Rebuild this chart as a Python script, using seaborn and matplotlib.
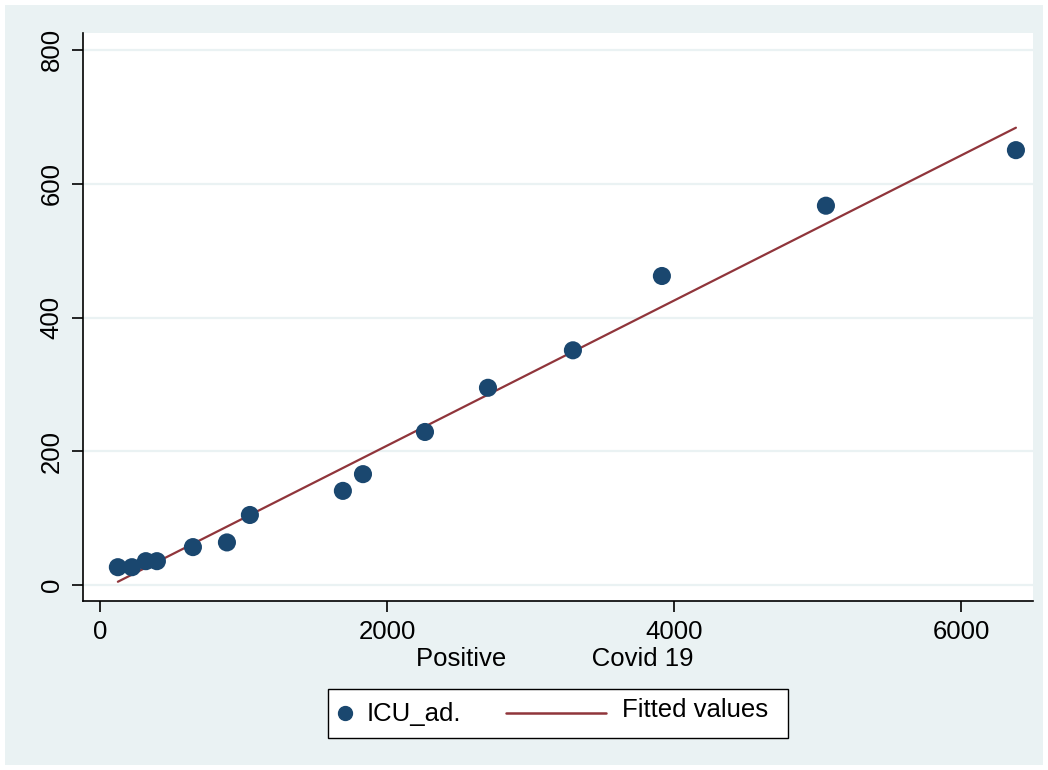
import numpy as np
import pandas as pd
import matplotlib
matplotlib.use("Agg")
import matplotlib.pyplot as plt
import seaborn as sns
from matplotlib.patches import Rectangle
from matplotlib.lines import Line2D

positive = [125, 223, 320, 397, 648, 885, 1045, 1693, 1833, 2265, 2704, 3296, 3916, 5059, 6383]
icu_ad = [27, 27, 36, 36, 57, 64, 105, 141, 166, 229, 295, 351, 462, 567, 650]
x_ticks = [0, 2000, 4000, 6000]
y_ticks = [0, 200, 400, 600, 800]
legend_labels = ["ICU_ad.", "Fitted values"]

df = pd.DataFrame({"Positive": positive, "ICU_ad": icu_ad})

sns.set_style("white")
plt.rcParams['font.family'] = ['Liberation Sans', 'DejaVu Sans']
plt.rcParams['text.color'] = 'black'
plt.rcParams['axes.labelcolor'] = 'black'
plt.rcParams['xtick.color'] = 'black'
plt.rcParams['ytick.color'] = 'black'

BG = "#EAF2F3"
NAVY = "#1a476f"
MAROON = "#90353b"
FS = 18.5
W, H = 1048, 770

fig = plt.figure(figsize=(W / 100, H / 100), dpi=100)
fig.patch.set_facecolor("white")
fig.patches.append(Rectangle((5 / W, 5 / H), 1038 / W, 760 / H, transform=fig.transFigure,
                             facecolor=BG, edgecolor="none", zorder=-10))

ax = fig.add_axes([83 / W, 1 - 601 / H, 950 / W, 568 / H])
ax.set_facecolor("white")

for y in y_ticks:
    ax.axhline(y, color=BG, lw=1.6, zorder=0)

coef = np.polyfit(df["Positive"], df["ICU_ad"], 1)
xs = np.array([df["Positive"].min(), df["Positive"].max()])
sns.lineplot(x=xs, y=np.polyval(coef, xs), ax=ax, color=MAROON, lw=1.6, zorder=2)
sns.scatterplot(data=df, x="Positive", y="ICU_ad", ax=ax, color=NAVY, s=170,
                edgecolor="none", zorder=3)

ax.set_xlim(-118, 6502)
ax.set_ylim(-23.5, 825)
ax.set_xticks(x_ticks)
ax.set_yticks(y_ticks)
ax.set_xticklabels([str(v) for v in x_ticks], fontsize=FS)
ax.set_yticklabels([str(v) for v in y_ticks], fontsize=FS, rotation=90, va="center")
ax.tick_params(axis="both", direction="out", length=8, width=1.2, colors="black",
               bottom=True, left=True, pad=6)
ax.set_xlabel("Positive            Covid 19", fontsize=FS, labelpad=2, color="black")
ax.set_ylabel("")

for s in ["top", "right"]:
    ax.spines[s].set_visible(False)
for s in ["left", "bottom"]:
    ax.spines[s].set_color("black")
    ax.spines[s].set_linewidth(1.2)

# nudge x-label 3px left
fig.canvas.draw()
lab = ax.xaxis.label
bb = lab.get_window_extent()
cx = (bb.x0 + bb.x1) / 2 - 3
top = bb.y1
inv = ax.transAxes.inverted()
ax_x, ax_y = inv.transform((cx, top))
ax.xaxis.set_label_coords(ax_x, ax_y)
lab.set_va("top")

# Legend drawn in figure pixel coordinates (Stata-style layout)
def fx(px):
    return px / W

def fy(py):
    return 1 - py / H

fig.patches.append(Rectangle((fx(328), fy(738)), (788 - 328) / W, (738 - 689) / H,
                             transform=fig.transFigure, facecolor="white",
                             edgecolor="black", lw=1.0, zorder=5))
fig.lines.append(Line2D([fx(345)], [fy(713)], transform=fig.transFigure, marker="o",
                        ls="none", color=NAVY, markersize=10, zorder=6))
fig.text(fx(367), fy(714), legend_labels[0], fontsize=FS, va="center", ha="left", zorder=6)
fig.lines.append(Line2D([fx(506), fx(606)], [fy(713), fy(713)], transform=fig.transFigure,
                        color=MAROON, lw=1.8, zorder=6))
fig.text(fx(622), fy(710), legend_labels[1], fontsize=FS, va="center", ha="left", zorder=6)

fig.savefig("out.png", dpi=100, facecolor=fig.get_facecolor())
